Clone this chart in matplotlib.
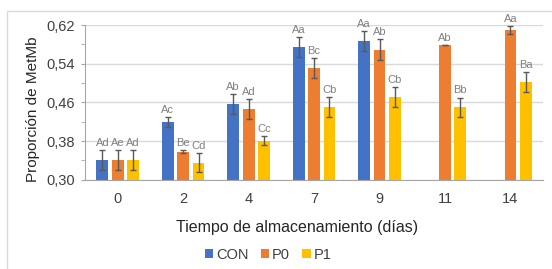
import numpy as np
import matplotlib.pyplot as plt
from matplotlib.patches import Rectangle

days = ["0", "2", "4", "7", "9", "11", "14"]
series = ["CON", "P0", "P1"]

con = [0.341, 0.420, 0.456, 0.575, 0.587, np.nan, np.nan]
p0 = [0.341, 0.358, 0.446, 0.531, 0.569, 0.578, 0.609]
p1 = [0.341, 0.335, 0.381, 0.450, 0.471, 0.450, 0.502]

con_err = [0.020, 0.010, 0.021, 0.021, 0.020, 0.0, 0.0]
p0_err = [0.020, 0.003, 0.021, 0.021, 0.022, 0.0, 0.008]
p1_err = [0.020, 0.020, 0.010, 0.021, 0.021, 0.020, 0.021]

con_lbl = ["Ad", "Ac", "Ab", "Aa", "Aa", "", ""]
p0_lbl = ["Ae", "Be", "Ad", "Bc", "Ab", "Ab", "Aa"]
p1_lbl = ["Ad", "Cd", "Cc", "Cb", "Cb", "Bb", "Ba"]

colors = ["#4472C4", "#ED7D31", "#FFC000"]

plt.rcParams["font.family"] = ["Liberation Sans", "DejaVu Sans"]

fig = plt.figure(figsize=(5.52, 2.69), dpi=100)
ax = fig.add_axes([0.154, 0.332, 0.83, 0.575])

# light frame around the chart area
fig.patches.append(Rectangle((7 / 552, -0.1), 1.2, 1 - 11 / 269 + 0.1,
                             transform=fig.transFigure, fill=False,
                             edgecolor="#d9d9d9", linewidth=1))

x = np.arange(len(days))
width = 0.18
step = 0.235

for i, (vals, errs, lbls) in enumerate([(con, con_err, con_lbl),
                                         (p0, p0_err, p0_lbl),
                                         (p1, p1_err, p1_lbl)]):
    xs = x + (i - 1) * step
    ax.bar(xs, vals, width, color=colors[i], label=series[i], zorder=2)
    ax.errorbar(xs, vals, yerr=errs, fmt="none", ecolor="#595959",
                elinewidth=1, capsize=2.5, capthick=1, zorder=3)
    for xi, v, e, t in zip(xs, vals, errs, lbls):
        if t and not np.isnan(v):
            ax.annotate(t, (xi, v + e), xytext=(0, 1.5), textcoords="offset points",
                        ha="center", va="bottom", fontsize=8, color="#808080")

ax.set_xlim(-0.5, len(days) - 0.5)
ax.set_ylim(0.30, 0.62)
ax.set_xticks(x)
ax.set_xticklabels(days)
ax.set_yticks([0.30, 0.38, 0.46, 0.54, 0.62])
ax.set_yticklabels(["0,30", "0,38", "0,46", "0,54", "0,62"])
ax.set_yticks([0.34, 0.42, 0.50, 0.58], minor=True)
ax.tick_params(axis="y", which="both", direction="out", length=3,
               color="#a6a6a6", labelsize=10.5, labelcolor="#404040", pad=4)
ax.tick_params(axis="x", length=0, labelsize=10.5, labelcolor="#404040", pad=9)
ax.grid(axis="y", which="major", color="#d9d9d9", linewidth=1, zorder=0)
ax.set_axisbelow(True)

for s in ["top", "right"]:
    ax.spines[s].set_visible(False)
ax.spines["left"].set_color("#a6a6a6")
ax.spines["bottom"].set_color("#a6a6a6")

ax.set_xlabel("Tiempo de almacenamiento (días)", fontsize=11.5, color="#262626")
ax.xaxis.set_label_coords((297 - 85) / 458, -0.26)
ax.set_ylabel("Proporción de MetMb", fontsize=11, color="#262626")
ax.yaxis.set_label_coords(-0.098, 0.457)

ax.legend(loc="center", bbox_to_anchor=((268 - 85) / 458, -0.485), ncol=3,
          frameon=False, fontsize=10.5, handlelength=0.6, handleheight=0.6,
          handletextpad=0.2, columnspacing=0.8, labelcolor="#404040")

fig.savefig("out.png", dpi=100)
